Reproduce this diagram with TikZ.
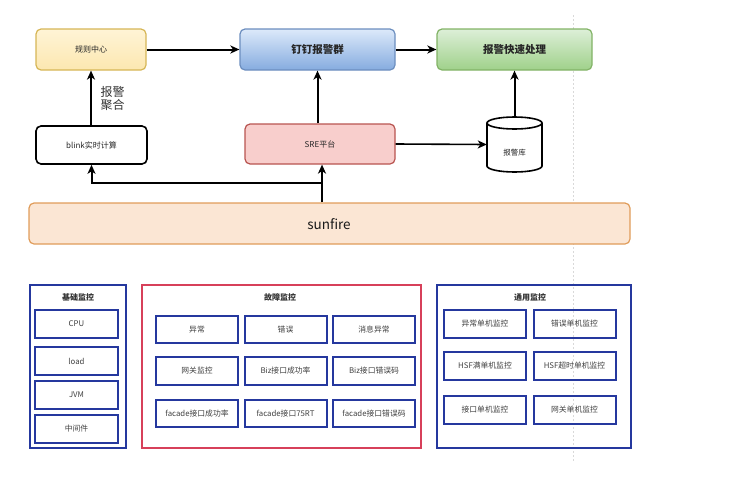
\documentclass[tikz,border=0pt]{standalone}
\usepackage{fontspec}
\setmainfont{Noto Sans CJK SC}
\usetikzlibrary{arrows.meta,shapes.geometric}
\definecolor{bframe}{HTML}{25389E}
\definecolor{rframe}{HTML}{D7405A}
\definecolor{ydraw}{HTML}{D6B656}
\definecolor{ytop}{HTML}{FFF4D6}
\definecolor{ybot}{HTML}{FCE7B0}
\definecolor{bdraw}{HTML}{6C8EBF}
\definecolor{btop}{HTML}{DCE9FA}
\definecolor{bbot}{HTML}{86ACDF}
\definecolor{gdraw}{HTML}{82B366}
\definecolor{gtop}{HTML}{DDEFD8}
\definecolor{gbot}{HTML}{9FD18A}
\definecolor{rdraw}{HTML}{B85450}
\definecolor{rfill}{HTML}{F8CECC}
\definecolor{odraw}{HTML}{E09C5A}
\definecolor{ofill}{HTML}{FBE6D4}
\begin{document}
\begin{tikzpicture}[x=1pt,y=-1pt,
  arr/.style={-{Stealth[length=9pt,width=8pt,inset=2.5pt]},line width=2pt},
  topbox/.style={draw,rounded corners=5pt,line width=1.2pt,font=\fontsize{8}{9}\selectfont,text=black!85},
  bigbox/.style={topbox,font=\fontsize{10.5}{12}\bfseries\selectfont},
  frame/.style={draw,line width=2pt},
  ftitle/.style={font=\fontsize{8}{9}\bfseries\selectfont,text=black!80},
  ib/.style={draw=bframe,line width=2pt,font=\fontsize{7.8}{9}\selectfont,text=black!75,minimum height=27.5pt,minimum width=82pt,inner sep=0pt}
]
\useasboundingbox (0,0) rectangle (738,482);
\draw[black!15,dashed,dash pattern=on 2pt off 2pt,line width=0.5pt] (573,15) -- (573,462);

% top row
\node[topbox,draw=ydraw,top color=ytop,bottom color=ybot,minimum width=110pt,minimum height=41pt] (rule) at (91,49.5) {规则中心};
\node[bigbox,draw=bdraw,top color=btop,bottom color=bbot,minimum width=155pt,minimum height=41pt] (ding) at (317.5,49.5) {钉钉报警群};
\node[bigbox,draw=gdraw,top color=gtop,bottom color=gbot,minimum width=155pt,minimum height=41pt] (fast) at (514.5,49.5) {报警快速处理};

\node[topbox,draw=black,line width=1.6pt,minimum width=111pt,minimum height=38pt] (blink) at (91.5,145) {blink实时计算};
\node[topbox,draw=rdraw,fill=rfill,minimum width=150pt,minimum height=40pt] (sre) at (320,144) {SRE平台};

% database cylinder
\draw[line width=1.6pt,fill=white] (487,123) -- (487,166) arc[start angle=180,end angle=0,x radius=27.5,y radius=6] -- (542,123);
\draw[line width=1.6pt,fill=white] (514.5,123) ellipse[x radius=27.5,y radius=6];
\node[minimum width=55pt,minimum height=55pt,inner sep=0pt] (db) at (514.5,144.5) {};
\node[font=\fontsize{7.5}{9}\selectfont,text=black!85] (dbtext) at (514.5,153) {报警库};

\node[topbox,draw=odraw,fill=ofill,minimum width=601pt,minimum height=41pt] (sun) at (329.5,223.5) {};
\node[font=\fontsize{13.5}{15}\selectfont,text=black!90] (suntext) at (329,224) {sunfire};

\node[font=\fontsize{12}{14}\selectfont,text=black!80,align=left] (agg) at (112.5,98.5) {报警\\[-1pt]聚合};

\draw[arr] (rule) -- (ding);
\draw[arr] (ding) -- (fast);
\draw[arr] (blink.north -| rule) -- (rule.south);
\draw[arr] (sre.north -| ding) -- (ding.south);
\draw[arr,line width=1.6pt] (sre.east) -- (db.west);
\draw[arr] (db.north) -- (fast.south -| db.north);
\coordinate (j) at (322,183);
\draw[arr] (sun.north -| j) -- (sre.south -| j);
\draw[arr] (j) -| (blink.south);

% bottom frames
\node[frame,draw=bframe,minimum width=96pt,minimum height=163pt,inner sep=0pt] (fb) at (78,366.5) {};
\node[ftitle] (tb) at (78,297.5) {基础监控};
\node[ib,minimum width=83pt,minimum height=28pt] (cpu) at (76.5,324) {CPU};
\node[ib,minimum width=83pt,minimum height=28pt] (load) at (76.5,361) {load};
\node[ib,minimum width=83pt,minimum height=28pt] (jvm) at (76.5,394.5) {JVM};
\node[ib,minimum width=83pt,minimum height=28pt] (mid) at (76.5,428.5) {中间件};

\node[frame,draw=rframe,minimum width=279pt,minimum height=163pt,inner sep=0pt] (ff) at (281.5,366.5) {};
\node[ftitle] (tf) at (280,297.5) {故障监控};
\node[ib] (f11) at (197,329.5) {异常};
\node[ib] (f12) at (285.5,329.5) {错误};
\node[ib] (f13) at (374,329.5) {消息异常};
\node[ib] (f21) at (197,371) {网关监控};
\node[ib] (f22) at (285.5,371) {Biz接口成功率};
\node[ib] (f23) at (374,371) {Biz接口错误码};
\node[ib] (f31) at (197,413.5) {facade接口成功率};
\node[ib] (f32) at (285.5,413.5) {facade接口75RT};
\node[ib] (f33) at (374,413.5) {facade接口错误码};

\node[frame,draw=bframe,minimum width=194pt,minimum height=163pt,inner sep=0pt] (fg) at (534,366.5) {};
\node[ftitle] (tg) at (530,297.5) {通用监控};
\node[ib,minimum height=28pt] (g11) at (485,324) {异常单机监控};
\node[ib,minimum height=28pt] (g12) at (574.5,324) {错误单机监控};
\node[ib,minimum height=28pt] (g21) at (485,365.5) {HSF满单机监控};
\node[ib,minimum height=28pt] (g22) at (574.5,365.5) {HSF超时单机监控};
\node[ib,minimum height=28pt] (g31) at (485,410) {接口单机监控};
\node[ib,minimum height=28pt] (g32) at (574.5,410) {网关单机监控};
\end{tikzpicture}
\end{document}
